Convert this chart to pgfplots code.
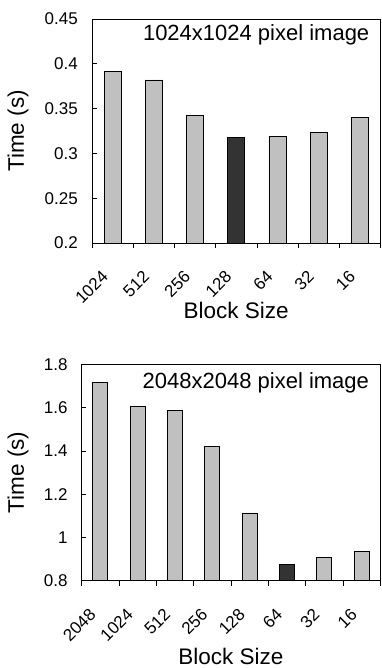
\documentclass[border=0pt]{standalone}
\usepackage{fontspec}
\setmainfont{Liberation Sans}
\usepackage{pgfplots}
\pgfplotsset{compat=1.18}
\definecolor{barlight}{RGB}{192,192,192}
\definecolor{bardark}{RGB}{51,51,51}
\begin{document}
\begin{tikzpicture}
\pgfplotsset{
 myax/.style={
  scale only axis,
  anchor=south west,
  axis line style={line width=0.8pt},
  ybar, bar shift=0pt,
  major x tick style={draw=none},
  minor x tick style={black, line width=0.7pt},
  major y tick style={black, line width=0.7pt},
  minor tick length=5pt,
  major tick length=4.5pt,
  xtick align=outside,
  ytick align=inside,
  xtick pos=bottom, ytick pos=left,
  tick label style={font=\fontsize{17}{20}\selectfont},
  label style={font=\fontsize{22.5}{26}\selectfont},
  /pgf/number format/assume math mode=true,
  xticklabel style={xshift=-12pt, yshift=-22pt, rotate=45, anchor=north east, inner sep=0pt},
  yticklabel style={anchor=east, inner sep=0pt, xshift=-14pt},
  every axis plot/.append style={draw=black, line width=0.8pt},
 }
}
\begin{axis}[myax,
  at={(92pt,-243pt)}, width=288.5pt, height=224pt,
  xmin=-0.5, xmax=6.5, ymin=0.2, ymax=0.45,
  xtick={0,1,2,3,4,5,6},
  xticklabels={1024,512,256,128,64,32,16},
  minor xtick={-0.5,0.5,1.5,2.5,3.5,4.5,5.5,6.5},
  ytick={0.2,0.25,0.3,0.35,0.4,0.45},
  yticklabels={0.2,0.25,0.3,0.35,0.4,0.45},
  bar width=17pt,
  xlabel={Block Size}, ylabel={Time (s)},
  xlabel style={at={(rel axis cs:0.5,-0.299)}, anchor=center},
  ylabel style={at={(rel axis cs:-0.256,0.5)}, anchor=center},
]
\addplot[fill=barlight] coordinates {(0,0.391) (1,0.382) (2,0.342) (4,0.319) (5,0.323) (6,0.340)};
\addplot[fill=bardark] coordinates {(3,0.318)};
\node[anchor=east, inner sep=0pt, font=\fontsize{22}{26}\selectfont] at (rel axis cs:1,1) [xshift=-11pt, yshift=-16pt] {1024x1024 pixel image};
\end{axis}
\begin{axis}[myax,
  at={(81.7pt,-580.7pt)}, width=298.5pt, height=216.4pt,
  xmin=-0.5, xmax=7.5, ymin=0.8, ymax=1.8,
  xtick={0,1,2,3,4,5,6,7},
  xticklabels={2048,1024,512,256,128,64,32,16},
  minor xtick={-0.5,0.5,1.5,2.5,3.5,4.5,5.5,6.5,7.5},
  ytick={0.8,1,1.2,1.4,1.6,1.8},
  yticklabels={0.8,1,1.2,1.4,1.6,1.8},
  bar width=15pt,
  xlabel={Block Size}, ylabel={Time (s)},
  xlabel style={at={(rel axis cs:0.5,-0.351)}, anchor=center},
  ylabel style={at={(rel axis cs:-0.2134,0.5)}, anchor=center},
]
\addplot[fill=barlight] coordinates {(0,1.717) (1,1.607) (2,1.586) (3,1.419) (4,1.113) (6,0.908) (7,0.934)};
\addplot[fill=bardark] coordinates {(5,0.877)};
\node[anchor=east, inner sep=0pt, font=\fontsize{22}{26}\selectfont] at (rel axis cs:1,1) [xshift=-11pt, yshift=-19pt] {2048x2048 pixel image};
\end{axis}
\pgfresetboundingbox
\path (0pt,0pt) rectangle (381pt,-668pt);
\end{tikzpicture}
\end{document}
